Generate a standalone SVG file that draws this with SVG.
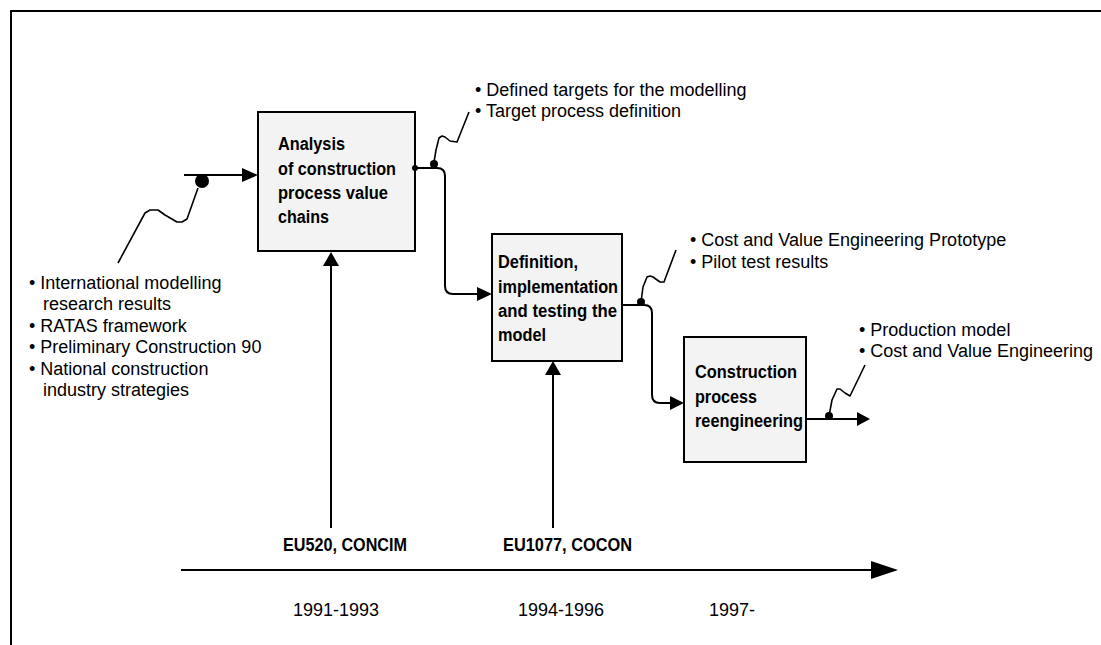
<svg xmlns="http://www.w3.org/2000/svg" width="1101" height="645" viewBox="0 0 1101 645">
  <style>
    .frame { fill: none; stroke: #000; stroke-width: 2; }
    .box { fill: #f3f3f3; stroke: #000; stroke-width: 2; }
    .btxt { font-family: "Liberation Sans", Arial, sans-serif; font-size: 18px; font-weight: bold; fill: #000; }
    .note { font-family: "Liberation Sans", Arial, sans-serif; font-size: 18px; fill: #000; }
    .lbl { font-family: "Liberation Sans", Arial, sans-serif; font-size: 18px; font-weight: bold; fill: #000; }
    .flow { fill: none; stroke: #000; stroke-width: 2; }
    .squig { fill: none; stroke: #000; stroke-width: 1.6; stroke-linejoin: round; }
    .head { fill: #000; }
  </style>

  <!-- outer frame -->
  <path class="frame" d="M11,645 V11 H1101"/>

  <!-- process boxes (bold captions squeezed to a narrow face) -->
  <g id="node-analysis">
    <rect class="box" x="258" y="112" width="157" height="139"/>
    <text class="btxt" x="278" y="150" textLength="67" lengthAdjust="spacingAndGlyphs">Analysis</text>
    <text class="btxt" x="278" y="175" textLength="118" lengthAdjust="spacingAndGlyphs">of construction</text>
    <text class="btxt" x="278" y="199" textLength="110" lengthAdjust="spacingAndGlyphs">process value</text>
    <text class="btxt" x="278" y="223" textLength="51" lengthAdjust="spacingAndGlyphs">chains</text>
  </g>

  <g id="node-definition">
    <rect class="box" x="492" y="234" width="130" height="127"/>
    <text class="btxt" x="498" y="268" textLength="80" lengthAdjust="spacingAndGlyphs">Definition,</text>
    <text class="btxt" x="498" y="293" textLength="120" lengthAdjust="spacingAndGlyphs">implementation</text>
    <text class="btxt" x="498" y="317" textLength="119" lengthAdjust="spacingAndGlyphs">and testing the</text>
    <text class="btxt" x="498" y="341" textLength="48" lengthAdjust="spacingAndGlyphs">model</text>
  </g>

  <g id="node-reengineering">
    <rect class="box" x="684" y="337" width="122" height="125"/>
    <text class="btxt" x="695" y="378" textLength="102" lengthAdjust="spacingAndGlyphs">Construction</text>
    <text class="btxt" x="695" y="403" textLength="62" lengthAdjust="spacingAndGlyphs">process</text>
    <text class="btxt" x="695" y="427" textLength="108" lengthAdjust="spacingAndGlyphs">reengineering</text>
  </g>

  <!-- notes -->
  <g id="note-inputs">
    <text class="note" x="29" y="289">• International modelling</text>
    <text class="note" x="43" y="310">research results</text>
    <text class="note" x="29" y="332">• RATAS framework</text>
    <text class="note" x="29" y="353">• Preliminary Construction 90</text>
    <text class="note" x="29" y="375">• National construction</text>
    <text class="note" x="43" y="396">industry strategies</text>
  </g>

  <g id="note-targets">
    <text class="note" x="475" y="96">• Defined targets for the modelling</text>
    <text class="note" x="475" y="117">• Target process definition</text>
  </g>

  <g id="note-prototype">
    <text class="note" x="690" y="246">• Cost and Value Engineering Prototype</text>
    <text class="note" x="690" y="268">• Pilot test results</text>
  </g>

  <g id="note-production">
    <text class="note" x="859" y="336">• Production model</text>
    <text class="note" x="859" y="357">• Cost and Value Engineering</text>
  </g>

  <!-- projects and timeline labels -->
  <g id="label-eu520">
    <text class="lbl" x="283" y="551" textLength="124" lengthAdjust="spacingAndGlyphs">EU520, CONCIM</text>
  </g>
  <g id="label-eu1077">
    <text class="lbl" x="503" y="551" textLength="129" lengthAdjust="spacingAndGlyphs">EU1077, COCON</text>
  </g>
  <g id="years">
    <text class="note" x="293" y="616">1991-1993</text>
    <text class="note" x="518" y="616">1994-1996</text>
    <text class="note" x="709" y="616">1997-</text>
  </g>

  <!-- connectors -->
  <g id="connectors">
    <!-- input into analysis -->
    <line class="flow" x1="184" y1="175" x2="244" y2="175"/>
    <polygon class="head" points="242,168 258,175 242,182"/>
    <circle cx="202" cy="181" r="7"/>
    <polyline class="squig" points="198,188 187,219 182,222 177,222 165,215 158,210 150,210 145,213 118,263"/>

    <!-- analysis to definition -->
    <circle cx="415" cy="168" r="3"/>
    <path class="flow" d="M415,168 H437 Q445,168 445,176 V286 Q445,294 453,294 H479"/>
    <polygon class="head" points="477,287 492,294 477,301"/>
    <circle cx="434" cy="164" r="4"/>
    <polyline class="squig" points="434,162 436,150 439,138 442,136 445,137 450,141 457,142 469,112"/>

    <!-- definition to reengineering -->
    <path class="flow" d="M622,305 H644 Q652,305 652,313 V395 Q652,403 660,403 H672"/>
    <polygon class="head" points="670,396 684,403 670,410"/>
    <circle cx="641" cy="302" r="4"/>
    <polyline class="squig" points="641,302 643,287 647,277 650,276 653,277 660,282 664,282 676,250"/>

    <!-- reengineering output -->
    <line class="flow" x1="806" y1="419" x2="859" y2="419"/>
    <polygon class="head" points="857,412 870,419 857,426"/>
    <circle cx="829" cy="416" r="4"/>
    <polyline class="squig" points="829,416 832,400 837,389 840,389 845,393 850,396 865,365"/>

    <!-- project arrows -->
    <line class="flow" x1="331" y1="528" x2="331" y2="264"/>
    <polygon class="head" points="323,266 331,252 339,266"/>
    <line class="flow" x1="553" y1="528" x2="553" y2="373"/>
    <polygon class="head" points="545,375 553,361 561,375"/>

    <!-- timeline -->
    <line class="flow" x1="181" y1="570" x2="873" y2="570" stroke-width="2.5"/>
    <polygon class="head" points="871,561 898,570 871,579"/>
  </g>
</svg>
